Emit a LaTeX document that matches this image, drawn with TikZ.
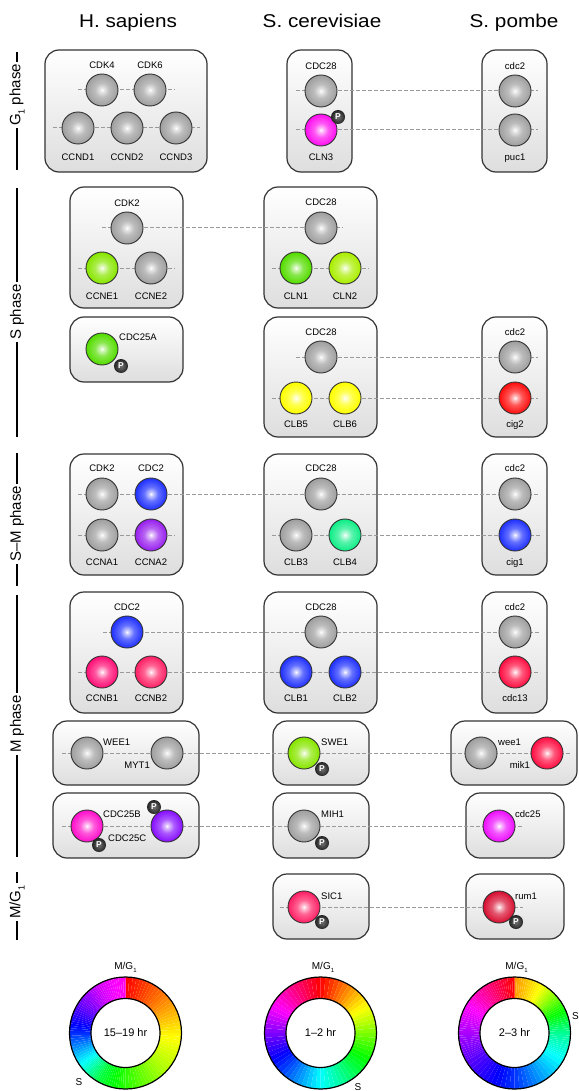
\documentclass[tikz,border=0pt]{standalone}
\usepackage{fontspec}
\setmainfont{Liberation Sans}
\usepackage{graphicx}
\pgfdeclarelayer{bg}
\pgfsetlayers{bg,main}

% sphere body colours
\definecolor{sGray}{HTML}{A0A0A0}
\definecolor{sMag}{HTML}{FF10F0}
\definecolor{sGreen}{HTML}{55DD00}
\definecolor{sLime}{HTML}{88E600}
\definecolor{sYlGr}{HTML}{AAEE00}
\definecolor{sYellow}{HTML}{FFFF00}
\definecolor{sRed}{HTML}{FF1010}
\definecolor{sBlue}{HTML}{2233FF}
\definecolor{sPurple}{HTML}{9922EE}
\definecolor{sSpring}{HTML}{11EE88}
\definecolor{sPink}{HTML}{FF1177}
\definecolor{sRose}{HTML}{FF2266}
\definecolor{sCrim}{HTML}{FF1144}
\definecolor{sOrchid}{HTML}{FF11CC}
\definecolor{sViolet}{HTML}{8811FF}
\definecolor{sFuch}{HTML}{EE11FF}
\definecolor{sRum}{HTML}{D81133}
\definecolor{linkgray}{HTML}{9A9A9A}

% radial highlight for each sphere colour
\newcommand\defsphere[2]{\pgfdeclareradialshading{sph#1}{\pgfpoint{0bp}{0bp}}{color(0bp)=(white);color(3bp)=(white!75!#2);color(11bp)=(white!30!#2);color(24bp)=(#2);color(42bp)=(#2!90!black);color(50bp)=(#2!72!black)}}
\defsphere{Gray}{sGray}
\defsphere{Mag}{sMag}
\defsphere{Green}{sGreen}
\defsphere{Lime}{sLime}
\defsphere{YlGr}{sYlGr}
\defsphere{Yellow}{sYellow}
\defsphere{Red}{sRed}
\defsphere{Blue}{sBlue}
\defsphere{Purple}{sPurple}
\defsphere{Spring}{sSpring}
\defsphere{Pink}{sPink}
\defsphere{Rose}{sRose}
\defsphere{Crim}{sCrim}
\defsphere{Orchid}{sOrchid}
\defsphere{Violet}{sViolet}
\defsphere{Fuch}{sFuch}
\defsphere{Rum}{sRum}
\pgfdeclareradialshading{pdot}{\pgfpoint{0bp}{0bp}}{color(0bp)=(black!55);color(30bp)=(black!92);color(50bp)=(black)}

\newcommand\lblf{\fontsize{9.5}{11}\selectfont}
\newcommand\hdrf{\fontsize{18.5}{22}\selectfont}
\newcommand\phf{\fontsize{15}{17}\selectfont}
\newcommand\whf{\fontsize{10}{12}\selectfont}
\newcommand\hstretch[1]{\scalebox{1.12}[1]{#1}}
\newcommand\gsub[1]{\raisebox{-0.28em}{\scalebox{0.6}{#1}}}

% one colour ring: #1 centre, #2 list of angle/hue/angle/hue pieces (angles clockwise from top)
\newcommand\huering[2]{%
  \foreach \ta/\ha/\tb/\hb in {#2}{%
    \foreach \k in {0,...,11}{%
      \pgfmathsetmacro\aa{\ta+(\tb-\ta)*\k/12-90}%
      \pgfmathsetmacro\ab{\ta+(\tb-\ta)*(\k+1)/12-90}%
      \pgfmathsetmacro\hh{mod(\ha+(\hb-\ha)*(\k+0.5)/12,360)/360}%
      \edef\setring{\noexpand\definecolor{ringc}{hsb}{\hh,1,1}}\setring
      \fill[ringc, shift={(#1)}] (\aa:56) arc[start angle=\aa, end angle=\ab, radius=56]
        -- (\ab:34.5) arc[start angle=\ab, end angle=\aa, radius=34.5] -- cycle;
    }%
  }%
}

\begin{document}
\begin{tikzpicture}[x=1pt,y=-1pt,
  box/.style={draw=black!80, line width=1.2pt, rounded corners=14pt, top color=white, bottom color=black!13, inner sep=0pt},
  sph/.style={circle, draw=black!80, line width=0.9pt, minimum size=32pt, inner sep=0pt, shade, shading=sph#1},
  pbadge/.style={circle, minimum size=14pt, inner sep=0pt, shade, shading=pdot, text=white, font=\fontsize{8.5}{9}\selectfont\bfseries},
  lbl/.style={font=\lblf, inner sep=0pt, anchor=base, yshift=-3.4pt},
  lblw/.style={font=\lblf, inner sep=0pt, anchor=base west, yshift=-3.4pt},
  lble/.style={font=\lblf, inner sep=0pt, anchor=base east, yshift=-3.4pt},
  hdr/.style={font=\hdrf, inner sep=0pt, anchor=base},
  link/.style={draw=linkgray, line width=1pt, dash pattern=on 4pt off 2pt},
  phase/.style={font=\phf, rotate=90, inner sep=2pt},
  phaseline/.style={draw=black, line width=1.4pt},
  ring/.style={circle, draw=black, line width=1.2pt, inner sep=0pt},
  whl/.style={font=\whf, inner sep=0pt}]

\useasboundingbox (0,0) rectangle (578,1091);

% column headings
\node[hdr] (hHs) at (128,27.3) {\hstretch{H. sapiens}};
\node[hdr] (hSc) at (322,27.3) {\hstretch{S. cerevisiae}};
\node[hdr] (hSp) at (514,27.3) {\hstretch{S. pombe}};

% phase markers on the left
\coordinate (pa1) at (17,52);  \coordinate (pa2) at (17,170);
\node[phase] (phG) at (17,95) {G\gsub{1} phase};
\draw[phaseline] (pa1) -- (phG.east); \draw[phaseline] (phG.west) -- (pa2);
\coordinate (pb1) at (17,188); \coordinate (pb2) at (17,437);
\node[phase] (phS) at (17,312) {S phase};
\draw[phaseline] (pb1) -- (phS.east); \draw[phaseline] (phS.west) -- (pb2);
\coordinate (pc1) at (17,453); \coordinate (pc2) at (17,586);
\node[phase] (phSM) at (17,524) {S–M phase};
\draw[phaseline] (pc1) -- (phSM.east); \draw[phaseline] (phSM.west) -- (pc2);
\coordinate (pd1) at (17,595); \coordinate (pd2) at (17,857);
\node[phase] (phM) at (17,724) {M phase};
\draw[phaseline] (pd1) -- (phM.east); \draw[phaseline] (phM.west) -- (pd2);
\coordinate (pe1) at (17,872); \coordinate (pe2) at (17,940);
\node[phase] (phMG) at (17,902) {M/G\gsub{1}};
\draw[phaseline] (pe1) -- (phMG.east); \draw[phaseline] (phMG.west) -- (pe2);

% complex boxes
\begin{pgfonlayer}{bg}
\node[box, minimum width=162pt, minimum height=122pt] (bG1a) at (126,111) {};
\node[box, minimum width=65pt, minimum height=122pt] (bG1b) at (319.5,111) {};
\node[box, minimum width=65pt, minimum height=122pt] (bG1c) at (514.5,111) {};
\node[box, minimum width=113pt, minimum height=121pt] (bS1a) at (126.5,247.5) {};
\node[box, minimum width=113pt, minimum height=121pt] (bS1b) at (320.5,247.5) {};
\node[box, minimum width=113pt, minimum height=65pt] (bS2a) at (126.5,349.5) {};
\node[box, minimum width=113pt, minimum height=120pt] (bS2b) at (320.5,377) {};
\node[box, minimum width=65pt, minimum height=120pt] (bS2c) at (514.5,377) {};
\node[box, minimum width=113pt, minimum height=121pt] (bSMa) at (126.5,514.5) {};
\node[box, minimum width=113pt, minimum height=121pt] (bSMb) at (320.5,514.5) {};
\node[box, minimum width=65pt, minimum height=121pt] (bSMc) at (514.5,514.5) {};
\node[box, minimum width=113pt, minimum height=121pt] (bMa) at (126.5,652.5) {};
\node[box, minimum width=113pt, minimum height=121pt] (bMb) at (320.5,652.5) {};
\node[box, minimum width=65pt, minimum height=121pt] (bMc) at (514.5,652.5) {};
\node[box, minimum width=146pt, minimum height=64pt] (bWa) at (126,753) {};
\node[box, minimum width=96pt, minimum height=64pt] (bWb) at (321,753) {};
\node[box, minimum width=126pt, minimum height=64pt] (bWc) at (514,753) {};
\node[box, minimum width=146pt, minimum height=65pt] (bCa) at (126,825.5) {};
\node[box, minimum width=96pt, minimum height=65pt] (bCb) at (321,825.5) {};
\node[box, minimum width=98pt, minimum height=65pt] (bCc) at (515,825.5) {};
\node[box, minimum width=96pt, minimum height=65pt] (bXb) at (321,906.5) {};
\node[box, minimum width=98pt, minimum height=65pt] (bXc) at (515,906.5) {};
\end{pgfonlayer}

% ---- G1 phase ----
\node[sph=Gray] (g1cdk4) at (102,90) {};
\node[sph=Gray] (g1cdk6) at (150,90) {};
\node[sph=Gray] (g1ccnd1) at (78,128) {};
\node[sph=Gray] (g1ccnd2) at (127,128) {};
\node[sph=Gray] (g1ccnd3) at (176,128) {};
\node[lbl] (t1) at (102,65) {CDK4};
\node[lbl] (t2) at (150,65) {CDK6};
\node[lbl] (t3) at (78,157) {CCND1};
\node[lbl] (t4) at (127,157) {CCND2};
\node[lbl] (t5) at (176,157) {CCND3};
\node[sph=Gray] (g1cdc28) at (321,91) {};
\node[sph=Mag] (g1cln3) at (321,130) {};
\node[pbadge] (p1) at (338,117) {P};
\node[lbl] (t6) at (321,66) {CDC28};
\node[lbl] (t7) at (321,157) {CLN3};
\node[sph=Gray] (g1cdc2) at (515,91) {};
\node[sph=Gray] (g1puc1) at (515,130) {};
\node[lbl] (t8) at (515,66) {cdc2};
\node[lbl] (t9) at (515,157) {puc1};

% ---- S phase, cyclin complexes ----
\node[sph=Gray] (s1cdk2) at (127,228) {};
\node[sph=Lime] (s1ccne1) at (102,268) {};
\node[sph=Gray] (s1ccne2) at (151,268) {};
\node[lbl] (t10) at (127,203) {CDK2};
\node[lbl] (t11) at (102,296) {CCNE1};
\node[lbl] (t12) at (151,296) {CCNE2};
\node[sph=Gray] (s1cdc28) at (321,228) {};
\node[sph=Green] (s1cln1) at (296,268) {};
\node[sph=YlGr] (s1cln2) at (345,268) {};
\node[lbl] (t13) at (321,202) {CDC28};
\node[lbl] (t14) at (296,296) {CLN1};
\node[lbl] (t15) at (345,296) {CLN2};

% ---- S phase, second group ----
\node[sph=Green] (s2cdc25a) at (102,349) {};
\node[pbadge] (p2) at (121,366) {P};
\node[lblw] (t16) at (119,337) {CDC25A};
\node[sph=Gray] (s2cdc28) at (321,357) {};
\node[sph=Yellow] (s2clb5) at (296,398) {};
\node[sph=Yellow] (s2clb6) at (345,398) {};
\node[lbl] (t17) at (321,332) {CDC28};
\node[lbl] (t18) at (296,424) {CLB5};
\node[lbl] (t19) at (345,424) {CLB6};
\node[sph=Gray] (s2cdc2) at (515,357) {};
\node[sph=Red] (s2cig2) at (515,398) {};
\node[lbl] (t20) at (515,332) {cdc2};
\node[lbl] (t21) at (515,424) {cig2};

% ---- S-M phase ----
\node[sph=Gray] (smcdk2) at (102,494) {};
\node[sph=Blue] (smcdc2) at (151,494) {};
\node[sph=Gray] (smccna1) at (102,535) {};
\node[sph=Purple] (smccna2) at (151,535) {};
\node[lbl] (t22) at (102,468) {CDK2};
\node[lbl] (t23) at (151,468) {CDC2};
\node[lbl] (t24) at (102,562) {CCNA1};
\node[lbl] (t25) at (151,562) {CCNA2};
\node[sph=Gray] (smcdc28) at (321,494) {};
\node[sph=Gray] (smclb3) at (296,535) {};
\node[sph=Spring] (smclb4) at (345,535) {};
\node[lbl] (t26) at (321,468) {CDC28};
\node[lbl] (t27) at (296,562) {CLB3};
\node[lbl] (t28) at (345,562) {CLB4};
\node[sph=Gray] (smcdc2p) at (515,494) {};
\node[sph=Blue] (smcig1) at (515,535) {};
\node[lbl] (t29) at (515,468) {cdc2};
\node[lbl] (t30) at (515,562) {cig1};

% ---- M phase ----
\node[sph=Blue] (mcdc2) at (127,632) {};
\node[sph=Pink] (mccnb1) at (102,672) {};
\node[sph=Rose] (mccnb2) at (151,672) {};
\node[lbl] (t31) at (127,607) {CDC2};
\node[lbl] (t32) at (102,698) {CCNB1};
\node[lbl] (t33) at (151,698) {CCNB2};
\node[sph=Gray] (mcdc28) at (321,632) {};
\node[sph=Blue] (mclb1) at (296,672) {};
\node[sph=Blue] (mclb2) at (345,672) {};
\node[lbl] (t34) at (321,607) {CDC28};
\node[lbl] (t35) at (296,698) {CLB1};
\node[lbl] (t36) at (345,698) {CLB2};
\node[sph=Gray] (mcdc2p) at (515,632) {};
\node[sph=Crim] (mcdc13) at (515,672) {};
\node[lbl] (t37) at (515,607) {cdc2};
\node[lbl] (t38) at (515,698) {cdc13};

% ---- kinases ----
\node[sph=Gray] (wwee1) at (87,753) {};
\node[sph=Gray] (wmyt1) at (167,753) {};
\node[lblw] (t39) at (103,742) {WEE1};
\node[lble] (t40) at (150,765) {MYT1};
\node[sph=Lime] (wswe1) at (304,753) {};
\node[pbadge] (p3) at (322,769) {P};
\node[lblw] (t41) at (321,742) {SWE1};
\node[sph=Gray] (wwee1p) at (481,753) {};
\node[sph=Crim] (wmik1) at (547,753) {};
\node[lblw] (t42) at (498,742) {wee1};
\node[lble] (t43) at (530,765) {mik1};

% ---- phosphatases ----
\node[sph=Orchid] (ccdc25b) at (87,826) {};
\node[sph=Violet] (ccdc25c) at (167,826) {};
\node[pbadge] (p4) at (99,845) {P};
\node[pbadge] (p5) at (154,807) {P};
\node[lblw] (t44) at (103,814) {CDC25B};
\node[lblw] (t45) at (108,838) {CDC25C};
\node[sph=Gray] (cmih1) at (304,826) {};
\node[pbadge] (p6) at (322,843) {P};
\node[lblw] (t46) at (321,814) {MIH1};
\node[sph=Fuch] (ccdc25) at (499,826) {};
\node[lblw] (t47) at (515,814) {cdc25};

% ---- M/G1 inhibitors ----
\node[sph=Rose] (gsic1) at (304,907) {};
\node[pbadge] (p7) at (322,922) {P};
\node[lblw] (t48) at (321,896) {SIC1};
\node[sph=Rum] (grum1) at (499,907) {};
\node[pbadge] (p8) at (516,922) {P};
\node[lblw] (t49) at (515,896) {rum1};

% dashed homology links, under the spheres
\begin{pgfonlayer}{bg}
\draw[link] ([xshift=-24pt]g1cdk4.center) -- ([xshift=25pt]g1cdk6.center);
\draw[link] ([xshift=-25pt]g1ccnd1.center) -- ([xshift=24pt]g1ccnd3.center);
\draw[link] ([xshift=-25pt]g1cdc28.center) -- ([xshift=23pt]g1cdc2.center);
\draw[link] ([xshift=-25pt]g1cln3.center) -- ([xshift=23pt]g1puc1.center);
\draw[link] ([xshift=-25pt]s1cdk2.center) -- ([xshift=22pt]s1cdc28.center);
\draw[link] ([xshift=-24pt]s1ccne1.center) -- ([xshift=24pt]s1ccne2.center);
\draw[link] ([xshift=-24pt]s1cln1.center) -- ([xshift=24pt]s1cln2.center);
\draw[link] ([xshift=-25pt]s2cdc28.center) -- ([xshift=23pt]s2cdc2.center);
\draw[link] ([xshift=-24pt]s2clb5.center) -- ([xshift=23pt]s2cig2.center);
\draw[link] ([xshift=-24pt]smcdk2.center) -- ([xshift=25pt]smcdc2p.center);
\draw[link] ([xshift=-24pt]smccna1.center) -- ([xshift=24pt]smccna2.center);
\draw[link] ([xshift=-24pt]smclb3.center) -- ([xshift=25pt]smcig1.center);
\draw[link] ([xshift=-24pt]mcdc2.center) -- ([xshift=25pt]mcdc2p.center);
\draw[link] ([xshift=-24pt]mccnb1.center) -- ([xshift=25pt]mcdc13.center);
\draw[link] ([xshift=-25pt]wwee1.center) -- ([xshift=23pt]wmik1.center);
\draw[link] ([xshift=-25pt]ccdc25b.center) -- ([xshift=24pt]ccdc25.center);
\draw[link] ([xshift=-24pt]gsic1.center) -- ([xshift=24pt]grum1.center);
\end{pgfonlayer}

% ---- cycle duration rings ----
\coordinate (wc1) at (125.5,1033);
\coordinate (wc2) at (320.5,1033);
\coordinate (wc3) at (514.5,1033);
\huering{wc1}{0/0/45/28, 45/28/90/57, 90/57/135/80, 135/80/180/110, 180/110/210/135, 210/135/235/180, 235/180/270/230, 270/230/300/262, 300/262/330/290, 330/290/360/305}
\huering{wc2}{0/0/60/60, 60/60/120/120, 120/120/180/180, 180/180/240/240, 240/240/300/300, 300/300/360/360}
\huering{wc3}{0/35/30/60, 30/60/60/110, 60/110/90/155, 90/155/120/180, 120/180/180/228, 180/228/240/262, 240/262/270/280, 270/280/300/300, 300/300/330/330, 330/330/360/360}
\node[ring, minimum size=112pt] (r1o) at (wc1) {};
\node[ring, minimum size=69pt, font=\fontsize{11}{13}\selectfont] (r1i) at (wc1) {15–19 hr};
\node[ring, minimum size=112pt] (r2o) at (wc2) {};
\node[ring, minimum size=69pt, font=\fontsize{11}{13}\selectfont] (r2i) at (wc2) {1–2 hr};
\node[ring, minimum size=112pt] (r3o) at (wc3) {};
\node[ring, minimum size=69pt, font=\fontsize{11}{13}\selectfont] (r3i) at (wc3) {2–3 hr};
\node[whl] (m1) at (125.5,967) {M/G\gsub{1}};
\node[whl] (m2) at (323,967) {M/G\gsub{1}};
\node[whl] (m3) at (516.5,967) {M/G\gsub{1}};
\node[whl] (s1) at (79,1082) {S};
\node[whl] (s2) at (358,1087) {S};
\node[whl] (s3) at (575.5,1016) {S};
\end{tikzpicture}
\end{document}
